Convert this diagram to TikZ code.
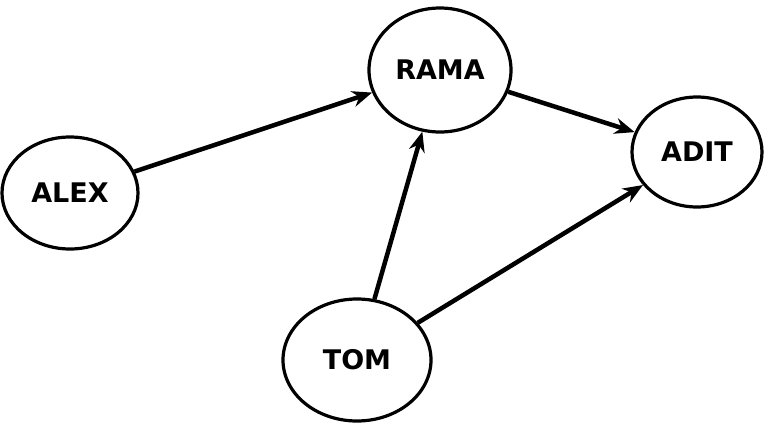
\documentclass[tikz,border=0pt]{standalone}
\usepackage{fontspec}
\setmainfont{DejaVu Sans}
\usetikzlibrary{shapes.geometric,arrows.meta}
\begin{document}
\begin{tikzpicture}[x=1pt,y=-1pt,
  nd/.style={ellipse,draw,line width=3.2pt,inner sep=0pt,font=\bfseries\fontsize{27}{30}\selectfont},
  ar/.style={-{Stealth[length=20pt,width=16pt]},line width=4.5pt}]
\useasboundingbox[fill=white] (0,0) rectangle (766,426);
\node[nd,minimum width=136pt,minimum height=112pt] (alex) at (70,193) {ALEX};
\node[nd,minimum width=142pt,minimum height=124pt] (rama) at (440,70) {RAMA};
\node[nd,minimum width=130pt,minimum height=110pt] (adit) at (697,152) {ADIT};
\node[nd,minimum width=148pt,minimum height=122pt] (tom) at (357,360) {TOM};
\draw[ar] (alex) -- (rama);
\draw[ar] (rama) -- (adit);
\draw[ar] (tom) -- (rama);
\draw[ar] (tom) -- (adit);
\end{tikzpicture}
\end{document}
